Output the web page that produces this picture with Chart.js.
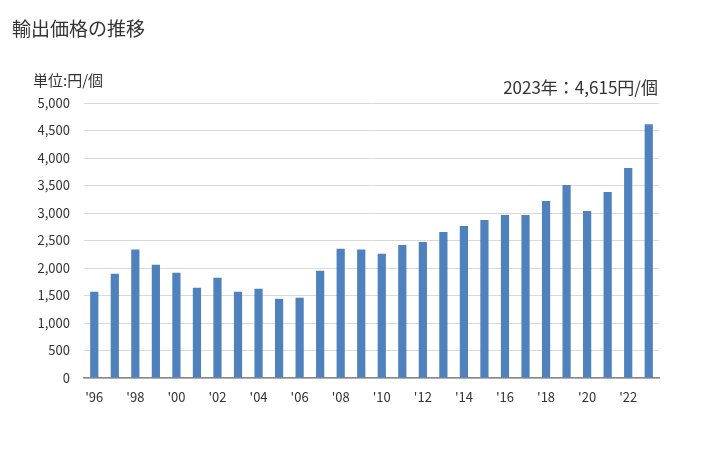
<!DOCTYPE html>
<html>
<head>
<meta charset="utf-8">
<script src="https://cdn.jsdelivr.net/npm/chart.js@4"></script>
<style>
  body { margin: 0; background: #fff; }
  #wrap { position: relative; width: 728px; height: 450px; font-family: "Noto Sans CJK JP", sans-serif; color: #333; }
  .txt { position: absolute; white-space: nowrap; line-height: 1; }
</style>
</head>
<body>
<div id="wrap">
  <canvas id="chart" width="728" height="450"></canvas>
  <div class="txt" style="left:12px; top:18px; font-size:19px;">輸出価格の推移</div>
  <div class="txt" style="left:33px; top:72px; font-size:15px;">単位:円/個</div>
  <div class="txt" style="right:70px; top:78px; font-size:17px;">2023年：4,615円/個</div>
</div>
<script>
const years = ['96','97','98','99','00','01','02','03','04','05','06','07','08','09',
  '10','11','12','13','14','15','16','17','18','19','20','21','22','23'];
const prices = [1570, 1895, 2335, 2060, 1915, 1640, 1825, 1570, 1625, 1440, 1460, 1950, 2350, 2335,
  2258, 2418, 2473, 2655, 2764, 2873, 2964, 2964, 3218, 3509, 3036, 3382, 3818, 4615];

const ctx = document.getElementById('chart').getContext('2d');
const myChart = new Chart(ctx, {
  type: 'bar',
  data: {
    labels: years,
    datasets: [{
      data: prices,
      backgroundColor: '#4f81bd',
      barPercentage: 0.4,
      categoryPercentage: 1.0
    }]
  },
  options: {
    responsive: false,
    animation: false,
    layout: { padding: { top: 103, right: 69, bottom: 40, left: 0 } },
    plugins: { legend: { display: false }, tooltip: { enabled: false } },
    scales: {
      x: {
        grid: { display: false, drawTicks: false },
        border: { color: '#888', width: 1.5 },
        ticks: {
          autoSkip: false,
          maxRotation: 0,
          padding: 11,
          color: '#333',
          font: { family: 'Noto Sans CJK JP', size: 13 },
          callback: function(v, i) { return i % 2 === 0 ? "'" + years[i] : ''; }
        },
        afterFit: function(scale) { scale.height = 32; }
      },
      y: {
        min: 0,
        max: 5000,
        grid: { color: '#d9d9d9', drawTicks: false },
        border: { display: false },
        ticks: {
          stepSize: 500,
          padding: 14,
          color: '#333',
          font: { family: 'Noto Sans CJK JP', size: 13 },
          callback: function(v) { return v.toLocaleString('en-US'); }
        },
        afterFit: function(scale) { scale.width = 84; }
      }
    }
  }
});
</script>
</body>
</html>
